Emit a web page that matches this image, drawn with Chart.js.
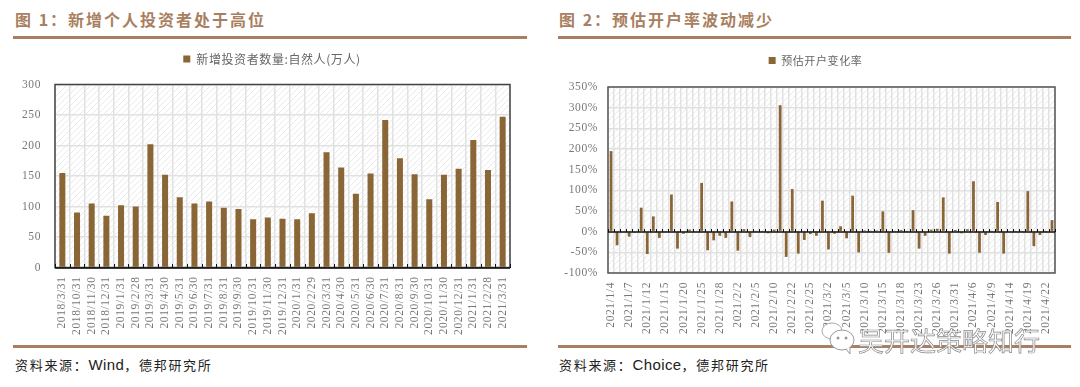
<!DOCTYPE html>
<html>
<head>
<meta charset="utf-8">
<script src="https://cdn.jsdelivr.net/npm/chart.js@4"></script>
<style>
    html, body { margin: 0; padding: 0; background: #fff; }
    #page { position: relative; width: 1080px; height: 387px; overflow: hidden; }
    canvas { position: absolute; }
    .title { position: absolute; top: 7px; font: bold 16px "Noto Sans CJK SC"; letter-spacing: 2px; color: #a9805f; white-space: nowrap; }
    .rule { position: absolute; height: 3px; background: #a97f62; }
    .source { position: absolute; top: 355px; font: 13px "Noto Sans CJK SC"; letter-spacing: 1.7px; color: #222; white-space: nowrap; }
    .source b { font: 15px "Liberation Sans"; letter-spacing: 0.4px; }
    #mark { position: absolute; left: 858px; top: 321px; font: 26px "Noto Sans CJK SC"; color: #fff; -webkit-text-stroke: 0.7px #888; white-space: nowrap; }
    #icon { position: absolute; left: 820px; top: 320px; }
</style>
</head>
<body>
<div id="page">
    <div class="title" style="left:15px">图 1：新增个人投资者处于高位</div>
    <div class="title" style="left:559px">图 2：预估开户率波动减少</div>
    <div class="rule" style="left:13px;width:514px;top:36px"></div>
    <div class="rule" style="left:558px;width:513px;top:36px"></div>
    <canvas id="chart1" width="544" height="313" style="left:0;top:32px"></canvas>
    <canvas id="chart2" width="531" height="310" style="left:550px;top:35px"></canvas>
    <div class="rule" style="left:13px;width:514px;top:345px"></div>
    <div class="rule" style="left:558px;width:513px;top:345px"></div>
    <div class="source" style="left:15px">资料来源：<b>Wind</b>，德邦研究所</div>
    <div class="source" style="left:559px">资料来源：<b>Choice</b>，德邦研究所</div>
    <svg id="icon" width="36" height="36" viewBox="0 0 36 36">
        <ellipse cx="12" cy="11" rx="10" ry="8" fill="#fff" stroke="#aaa"/>
        <ellipse cx="22" cy="20" rx="12" ry="10" fill="#fff" stroke="#999"/>
        <path d="M26 29 L30 34 L30 27" fill="#fff" stroke="#999"/>
        <circle cx="18" cy="18" r="1.5" fill="#999"/>
        <circle cx="26" cy="18" r="1.5" fill="#999"/>
    </svg>
    <div id="mark">吴开达策略知行</div>
</div>

<script>
const monthLabels = [
    '2018/3/31', '2018/10/31', '2018/11/30', '2018/12/31',
    '2019/1/31', '2019/2/28', '2019/3/31', '2019/4/30', '2019/5/31', '2019/6/30',
    '2019/7/31', '2019/8/31', '2019/9/30', '2019/10/31', '2019/11/30', '2019/12/31',
    '2020/1/31', '2020/2/29', '2020/3/31', '2020/4/30', '2020/5/31', '2020/6/30',
    '2020/7/31', '2020/8/31', '2020/9/30', '2020/10/31', '2020/11/30', '2020/12/31',
    '2021/1/31', '2021/2/28', '2021/3/31'
];
const newInvestors = [
    155, 90, 105, 85,
    102, 100, 202, 152, 115, 105,
    108, 98, 96, 79, 82, 80,
    79, 89, 189, 164, 121, 154,
    242, 179, 153, 112, 152, 162,
    209, 160, 247
];

const dayLabels = [
    '2021/1/4', '2021/1/5', '2021/1/6', '2021/1/7', '2021/1/8', '2021/1/11',
    '2021/1/12', '2021/1/13', '2021/1/14', '2021/1/15', '2021/1/18', '2021/1/19',
    '2021/1/20', '2021/1/21', '2021/1/22', '2021/1/25', '2021/1/26', '2021/1/27',
    '2021/1/28', '2021/1/29', '2021/2/1', '2021/2/2', '2021/2/3', '2021/2/4',
    '2021/2/5', '2021/2/8', '2021/2/9', '2021/2/10', '2021/2/18', '2021/2/19',
    '2021/2/22', '2021/2/23', '2021/2/24', '2021/2/25', '2021/2/26', '2021/3/1',
    '2021/3/2', '2021/3/3', '2021/3/4', '2021/3/5', '2021/3/8', '2021/3/9',
    '2021/3/10', '2021/3/11', '2021/3/12', '2021/3/15', '2021/3/16', '2021/3/17',
    '2021/3/18', '2021/3/19', '2021/3/22', '2021/3/23', '2021/3/24', '2021/3/25',
    '2021/3/26', '2021/3/29', '2021/3/30', '2021/3/31', '2021/4/1', '2021/4/2',
    '2021/4/6', '2021/4/7', '2021/4/8', '2021/4/9', '2021/4/12', '2021/4/13',
    '2021/4/14', '2021/4/15', '2021/4/16', '2021/4/19', '2021/4/20', '2021/4/21',
    '2021/4/22', '2021/4/23'
];
const openRate = [
    195, -33, -2, -12, -3, 58, -54, 37, -15, 2,
    90, -41, -5, 5, 2, 118, -45, -21, -10, -15,
    73, -46, 6, -13, 1, 1, -4, 5, 306, -61,
    103, -53, -20, -6, -10, 75, -43, -5, 13, -16,
    87, -50, 3, 1, 3, 49, -51, 1, 4, 1,
    52, -41, -10, 5, 7, 83, -53, 4, -4, 6,
    122, -51, -8, 1, 72, -53, -2, 1, 1, 98,
    -35, -8, 1, 28
];

const barColor = '#8a6536';
const tickFont = { family: '"Liberation Serif"', size: 11.5 };

// light diagonal hatch behind the grid
function hatch(ctx) {
    const c = document.createElement('canvas');
    c.width = 6;
    c.height = 6;
    const p = c.getContext('2d');
    p.strokeStyle = '#eaeaea';
    p.lineWidth = 1;
    p.beginPath();
    p.moveTo(-1, 7);
    p.lineTo(7, -1);
    p.stroke();
    return ctx.createPattern(c, 'repeat');
}

const framePlugin = {
    id: 'frame',
    beforeLayout(chart) {
        const o = chart.options.plugins.frame;
        chart.ctx.letterSpacing = o.spacing;
        // the legend box has no bottom margin option, so pad its fit
        if (!chart.legend.padded) {
            const fit = chart.legend.fit;
            chart.legend.fit = function() {
                fit.call(this);
                this.height += o.legendGap;
            };
            chart.legend.padded = true;
        }
    },
    beforeDraw(chart) {
        const a = chart.chartArea;
        chart.ctx.letterSpacing = chart.options.plugins.frame.spacing;
        chart.ctx.fillStyle = hatch(chart.ctx);
        chart.ctx.fillRect(a.left, a.top, a.width, a.height);
    },
    afterDraw(chart) {
        const a = chart.chartArea;
        const o = chart.options.plugins.frame;
        const ctx = chart.ctx;
        const x = chart.scales.x;
        const zero = Math.round(chart.scales.y.getPixelForValue(0));
        const step = a.width / chart.data.labels.length;
        ctx.save();
        ctx.strokeStyle = o.color;
        ctx.lineWidth = 1.5;
        ctx.strokeRect(a.left, a.top, a.width, a.height);
        // axis line and small inside ticks at the zero value
        ctx.strokeStyle = '#111';
        ctx.beginPath();
        ctx.moveTo(a.left, zero);
        ctx.lineTo(a.right, zero);
        ctx.stroke();
        ctx.lineWidth = 1;
        ctx.beginPath();
        for (let i = 0; i <= chart.data.labels.length; i++) {
            const px = Math.round(x.left + i * step) + 0.5;
            ctx.moveTo(px, zero);
            ctx.lineTo(px, zero - o.tick);
        }
        ctx.stroke();
        ctx.restore();
    }
};

function makeChart(id, labels, values, name, s) {
    const ctx = document.getElementById(id).getContext('2d');
    return new Chart(ctx, {
        type: 'bar',
        plugins: [framePlugin],
        data: {
            labels: labels,
            datasets: [{
                label: name,
                data: values,
                backgroundColor: barColor,
                barPercentage: s.barPercentage,
                categoryPercentage: 1
            }]
        },
        options: {
            responsive: false,
            animation: false,
            plugins: {
                frame: { color: s.frameColor, spacing: '0.6px', legendGap: s.legendGap, tick: s.tick },
                tooltip: { enabled: false },
                legend: {
                    position: 'top',
                    labels: {
                        boxWidth: 7,
                        boxHeight: 7,
                        padding: s.legendPadding,
                        color: '#666',
                        font: { family: '"Noto Sans CJK SC"', size: s.legendSize }
                    }
                }
            },
            scales: {
                x: {
                    border: { display: false },
                    grid: { color: '#e1e1e1', lineWidth: 1.5, drawTicks: false },
                    afterFit(scale) { scale.height = s.xHeight; },
                    ticks: {
                        autoSkip: false,
                        minRotation: 90,
                        maxRotation: 90,
                        padding: 9,
                        color: '#777',
                        font: tickFont,
                        callback(value, index) {
                            return index % s.labelEvery === 0 ? labels[index] : '';
                        }
                    }
                },
                y: {
                    min: s.min,
                    max: s.max,
                    border: { display: false },
                    grid: { color: '#e1e1e1', lineWidth: 1.5, drawTicks: false },
                    afterFit(scale) { scale.width = s.yWidth; },
                    ticks: {
                        stepSize: 50,
                        padding: s.yPadding,
                        color: '#777',
                        font: tickFont,
                        callback: s.yFormat
                    }
                },
                // empty right axis, only holds the margin so the legend stays centred on the canvas
                spacer: {
                    position: 'right',
                    border: { display: false },
                    grid: { display: false },
                    ticks: { display: false },
                    afterFit(scale) { scale.width = s.rightWidth; }
                }
            }
        }
    });
}

makeChart('chart1', monthLabels, newInvestors, '新增投资者数量:自然人(万人)', {
    barPercentage: 0.41, rightWidth: 34, frameColor: '#444', tick: 4,
    legendPadding: 21, legendGap: 9.5, legendSize: 12, xHeight: 77.5, yWidth: 55, yPadding: 14,
    labelEvery: 1, min: 0, max: 300,
    yFormat: value => value
});

makeChart('chart2', dayLabels, openRate, '预估开户变化率', {
    barPercentage: 0.46, rightWidth: 26, frameColor: '#555', tick: 3,
    legendPadding: 20, legendGap: 11, legendSize: 11, xHeight: 72, yWidth: 58, yPadding: 10,
    labelEvery: 3, min: -100, max: 350,
    yFormat: value => value + '%'
});
</script>
</body>
</html>
